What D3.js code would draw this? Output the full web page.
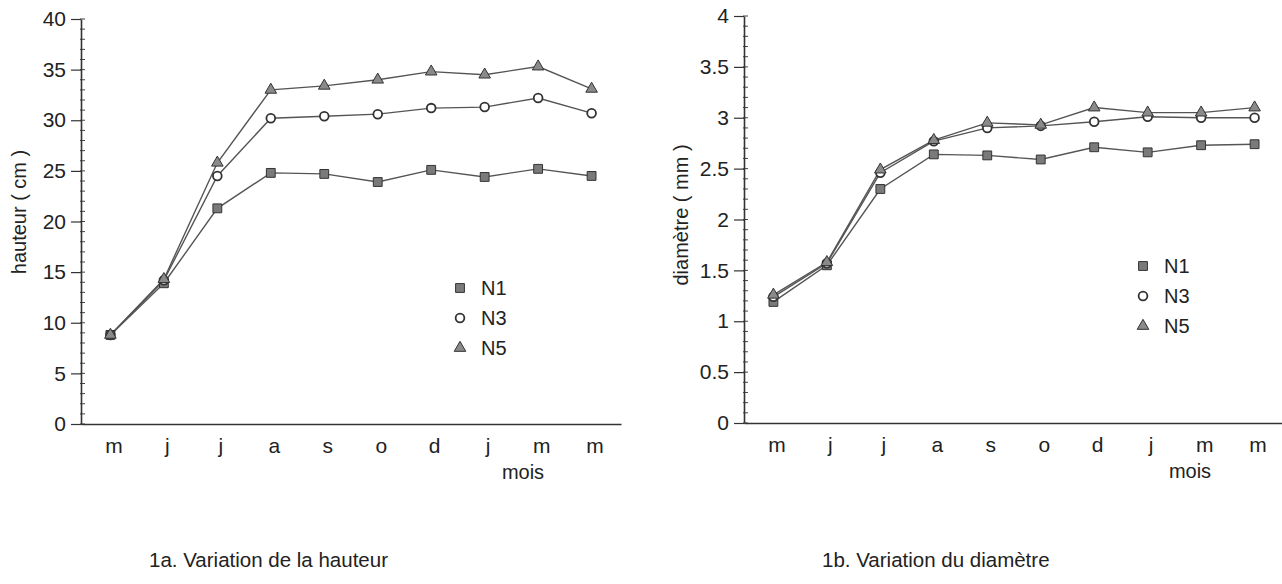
<!DOCTYPE html>
<html>
<head>
<meta charset="utf-8">
<script src="https://cdn.jsdelivr.net/npm/d3@7"></script>
<style>
  body { margin: 0; background: #fff; }
  svg { display: block; font-family: "Liberation Sans", Arial, sans-serif; }
</style>
</head>
<body>
<svg id="chart" width="1282" height="584"></svg>
<script>
// months (mai -> mai)
const mois = ["m","j","j","a","s","o","d","j","m","m"]
const series = ["N1","N3","N5"]

// 1a hauteur (cm)
const hauteurN1 = [8.8, 13.9, 21.3, 24.8, 24.7, 23.9, 25.1, 24.4, 25.2, 24.5]
const hauteurN3 = [8.8, 14.2, 24.5, 30.2, 30.4, 30.6, 31.2, 31.3, 32.2, 30.7]
const hauteurN5 = [8.8, 14.3, 25.8, 33.0, 33.4, 34.0, 34.8, 34.5, 35.3, 33.1]
const hauteurTicks = [0,5,10,15,20,25,30,35,40]

// 1b diametre (mm)
const diamN1 = [1.19, 1.55, 2.30, 2.64, 2.63, 2.59, 2.71, 2.66, 2.73, 2.74]
const diamN3 = [1.24, 1.57, 2.46, 2.77, 2.90, 2.92, 2.96, 3.01, 3.00, 3.00]
const diamN5 = [1.26, 1.58, 2.49, 2.78, 2.95, 2.93, 3.10, 3.05, 3.05, 3.10]
const diamTicks = [0,0.5,1,1.5,2,2.5,3,3.5,4]

const svg = d3.select("#chart")

const symType = { N1: d3.symbolSquare, N3: d3.symbolCircle, N5: d3.symbolTriangle }
const symSize = { N1: 78, N3: 60, N5: 58 }
const symFill = { N1: "#7a7a7a", N3: "#fff", N5: "#8a8a8a" }

function drawPanel(opt) {
    const g = svg.append("g")

    const x = d3.scalePoint()
        .domain(d3.range(mois.length))
        .range([opt.x0, opt.x1])
        .padding(0.55)

    const y = d3.scaleLinear()
        .domain([0, opt.max])
        .range([opt.y0, opt.y1])

    // minor ticks
    const minor = d3.range(0, opt.max + opt.minorStep / 2, opt.minorStep)
    g.append("g").selectAll("line")
        .data(minor)
        .join("line")
        .attr("x1", opt.x0 - 1).attr("x2", opt.x0 + 4)
        .attr("y1", d => y(d)).attr("y2", d => y(d))
        .attr("stroke", "#444")
        .attr("stroke-width", 1)

    // y axis
    const yAxis = g.append("g")
        .attr("transform", `translate(${opt.x0},0)`)
        .call(d3.axisLeft(y).tickValues(opt.ticks).tickFormat(d => d)
            .tickSize(10).tickPadding(5).tickSizeOuter(0))
    yAxis.select(".domain").attr("stroke", "#333").attr("stroke-width", 1.6)
    yAxis.selectAll(".tick line").attr("stroke", "#333").attr("stroke-width", 1.2)
    yAxis.selectAll("text").style("font-size", "21px").attr("fill", "#222")

    // x axis
    const xAxis = g.append("g")
        .attr("transform", `translate(0,${opt.y0})`)
        .call(d3.axisBottom(x).tickFormat(i => mois[i]).tickSize(0).tickPadding(14).tickSizeOuter(0))
    xAxis.select(".domain").attr("stroke", "#333").attr("stroke-width", 1.6)
    xAxis.selectAll("text").style("font-size", "21px").attr("fill", "#222")
        .attr("dx", 3)

    g.append("text")
        .attr("x", opt.moisX).attr("y", opt.y0 + 55)
        .attr("text-anchor", "middle")
        .style("font-size", "20px").attr("fill", "#222")
        .text("mois")

    g.append("text")
        .attr("transform", `translate(${opt.labX},${opt.labY}) rotate(-90)`)
        .attr("text-anchor", "middle")
        .style("font-size", "20px").attr("fill", "#222")
        .text(opt.ylabel)

    const line = d3.line()
        .x((d, i) => x(i))
        .y(d => y(d))

    // lines first, markers on top
    series.forEach(s => {
        g.append("path")
            .datum(opt.data[s])
            .attr("fill", "none")
            .attr("stroke", "#555")
            .attr("stroke-width", 1.4)
            .attr("d", line)
    })
    series.forEach(s => {
        g.append("g").selectAll("path")
            .data(opt.data[s])
            .join("path")
            .attr("transform", (d, i) => `translate(${x(i)},${y(d)})`)
            .attr("d", d3.symbol().type(symType[s]).size(symSize[s]))
            .attr("fill", symFill[s])
            .attr("stroke", "#333")
            .attr("stroke-width", s == "N3" ? 1.8 : 1)
    })

    // legend
    const leg = g.append("g").selectAll("g")
        .data(series)
        .join("g")
        .attr("transform", (d, i) => `translate(${opt.legX},${opt.legY + i * 30})`)
    leg.append("path")
        .attr("d", d => d3.symbol().type(symType[d]).size(symSize[d])())
        .attr("fill", d => symFill[d])
        .attr("stroke", "#333")
        .attr("stroke-width", d => d == "N3" ? 1.8 : 1)
    leg.append("text")
        .attr("x", 21).attr("y", 7)
        .style("font-size", "20px").attr("fill", "#222")
        .text(d => d)

    svg.append("text")
        .attr("x", opt.titleX).attr("y", 567)
        .style("font-size", "20.5px").attr("fill", "#222")
        .text(opt.title)
}

drawPanel({
    x0: 81, x1: 621, y0: 424, y1: 19, max: 40, ticks: hauteurTicks, minorStep: 1,
    data: { N1: hauteurN1, N3: hauteurN3, N5: hauteurN5 },
    ylabel: "hauteur ( cm )", labX: 26, labY: 212, moisX: 523,
    legX: 460, legY: 288, title: "1a. Variation de la hauteur", titleX: 149
})

drawPanel({
    x0: 744, x1: 1284, y0: 423, y1: 16, max: 4, ticks: diamTicks, minorStep: 0.1,
    data: { N1: diamN1, N3: diamN3, N5: diamN5 },
    ylabel: "diamètre ( mm )", labX: 688, labY: 215, moisX: 1190,
    legX: 1143, legY: 266, title: "1b. Variation du diamètre", titleX: 822
})
</script>
</body>
</html>
